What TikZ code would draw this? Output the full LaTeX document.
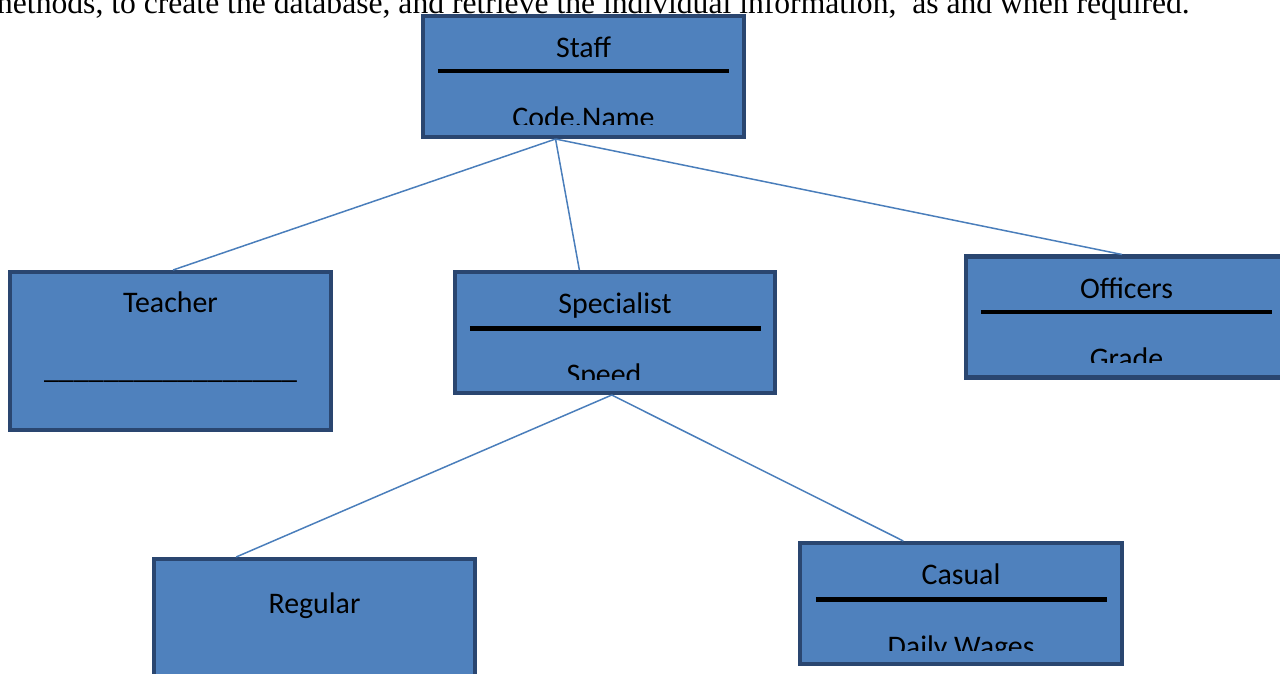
\documentclass[tikz,border=0pt]{standalone}
\usepackage{fontspec}
\setmainfont{Carlito}
\newfontfamily\bodyfont{Liberation Serif}
\usetikzlibrary{calc}
\definecolor{boxfill}{HTML}{4F81BD}
\definecolor{boxedge}{HTML}{2A4670}
\definecolor{linkblue}{HTML}{4A7EBB}

\begin{document}
\begin{tikzpicture}[x=0.02cm, y=-0.02cm,
    classbox/.style={draw=boxedge, fill=boxfill, line width=2.3pt, inner sep=0pt,
      minimum width=321*0.02cm, minimum height=121*0.02cm},
    tallbox/.style={classbox, minimum height=158*0.02cm},
    title/.style={font=\fontsize{17}{20}\selectfont, anchor=base, inner sep=0pt},
    divider/.style={line width=2pt},
    link/.style={draw=linkblue, line width=0.85pt}]
    \useasboundingbox (0,0) rectangle (1280,673);
    \clip (0,0) rectangle (1280,673);

    \node [anchor=base east, inner sep=0pt, font=\bodyfont\fontsize{18}{21}\selectfont] (intro) at (1190,13.5)
      {methods, to create the database, and retrieve the individual information,\ \ as and when required.};

    \node [classbox] (staff) at (583.5,76.5) {};
    \node [tallbox] (teacher) at (170.5,351) {};
    \node [classbox, minimum width=320*0.02cm] (specialist) at (615,332.5) {};
    \node [classbox] (officers) at (1126.5,317) {};
    \node [tallbox] (regular) at (314.5,638) {};
    \node [classbox, minimum width=322*0.02cm] (casual) at (961,603.5) {};

    \node [title] (staffname) at ($(staff.north)+(0,43.5)$) {Staff};
    \node [title] (teachername) at ($(teacher.north)+(0,43)$) {Teacher};
    \node [title] (teacherattr) at ($(teacher.north)+(0,109)$) {\_\_\_\_\_\_\_\_\_\_\_\_\_\_\_\_\_};
    \node [title] (specialistname) at ($(specialist.north)+(0,44)$) {Specialist};
    \node [title] (officersname) at ($(officers.north)+(0,44)$) {Officers};
    \node [title] (regularname) at ($(regular.north)+(0,57)$) {Regular};
    \node [title] (casualname) at ($(casual.north)+(0,44)$) {Casual};

    \draw[divider] ($(staff.north west)+(17,57)$) -- ($(staff.north east)+(-17,57)$);
    \draw[divider, line width=2.4pt] ($(specialist.north west)+(17,58.5)$) -- ($(specialist.north east)+(-16,58.5)$);
    \draw[divider, line width=2.4pt] ($(officers.north west)+(17,57.5)$) -- ($(officers.north east)+(-17,57.5)$);
    \draw[divider, line width=2.4pt] ($(casual.north west)+(18,58.5)$) -- ($(casual.north east)+(-17,58.5)$);

    \begin{scope}
      \clip (staff.north west) rectangle ($(staff.north east)+(0,111)$);
      \node [title] (staffattr) at ($(staff.north)+(0,114)$) {Code.Name};
    \end{scope}
    \begin{scope}
      \clip (specialist.north west) rectangle ($(specialist.north east)+(0,110)$);
      \node [title] (specialistattr) at ($(specialist.north)+(-11,115)$) {Speed};
    \end{scope}
    \begin{scope}
      \clip (officers.north west) rectangle ($(officers.north east)+(0,108)$);
      \node [title] (officersattr) at ($(officers.north)+(0,114)$) {Grade};
    \end{scope}
    \begin{scope}
      \clip (casual.north west) rectangle ($(casual.north east)+(0,110)$);
      \node [title] (casualattr) at ($(casual.north)+(0,116)$) {Daily Wages};
    \end{scope}

    \draw[link] ($(staff.south west)!.414!(staff.south east)$) -- ($(teacher.north west)!.508!(teacher.north east)$);
    \draw[link] ($(staff.south west)!.414!(staff.south east)$) -- ($(specialist.north west)!.39!(specialist.north east)$);
    \draw[link] ($(staff.south west)!.414!(staff.south east)$) -- ($(officers.north west)!.486!(officers.north east)$);
    \draw[link] ($(specialist.south west)!.49!(specialist.south east)$) -- ($(regular.north west)!.259!(regular.north east)$);
    \draw[link] ($(specialist.south west)!.49!(specialist.south east)$) -- ($(casual.north west)!.323!(casual.north east)$);
\end{tikzpicture}
\end{document}
